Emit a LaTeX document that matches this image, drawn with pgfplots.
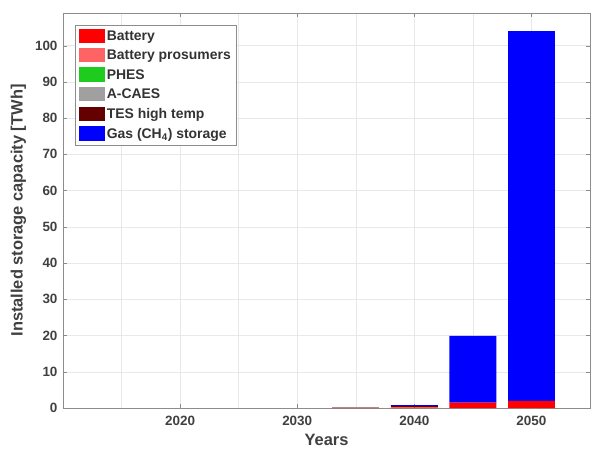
\documentclass[border=0pt]{standalone}
\usepackage{pgfplots}
\pgfplotsset{compat=1.18}
\usepackage{fontspec}
\setmainfont{Liberation Sans}
\definecolor{cbat}{RGB}{255,0,0}
\definecolor{cpros}{RGB}{255,100,100}
\definecolor{cphes}{RGB}{30,204,30}
\definecolor{ccaes}{RGB}{160,160,160}
\definecolor{ctes}{RGB}{100,0,0}
\definecolor{cgas}{RGB}{0,0,255}
\definecolor{gridc}{RGB}{232,232,232}
\definecolor{axc}{RGB}{140,140,140}
\begin{document}
\begin{tikzpicture}
\begin{axis}[
  scale only axis,
  width=527bp, height=395bp,
  ybar stacked,
  bar width=4,
  xmin=2010, xmax=2055,
  ymin=0, ymax=109,
  xtick={2020,2030,2040,2050},
  minor xtick={2015,2025,2035,2045},
  ytick={0,10,...,100},
  xticklabel style={/pgf/number format/1000 sep={}, yshift=-5bp},
  yticklabel style={xshift=-2bp},
  /pgf/number format/assume math mode=true,
  tick label style={font=\bfseries\fontsize{13.5}{15}\selectfont, text=black!75},
  xlabel={Years},
  ylabel={Installed storage capacity [TWh]},
  label style={font=\bfseries\fontsize{16.5}{18}\selectfont, text=black!75},
  xlabel style={yshift=-1bp},
  ylabel style={yshift=2bp},
  grid=both,
  major grid style={gridc, line width=0.5pt},
  minor grid style={gridc, line width=0.5pt},
  axis line style={axc},
  tick style={axc},
  tick align=inside,
  major tick length=4bp,
  minor tick length=0pt,
  legend style={at={(axis description cs:0.023,0.97)}, anchor=north west,
    draw=axc, fill=white, font=\bfseries\fontsize{14}{15}\selectfont,
    text=black!80, row sep=4.3bp, inner sep=3.5pt, cells={anchor=west}},
  legend image code/.code={\fill[#1] (0bp,-7bp) rectangle (26bp,7.5bp);},
  legend cell align=left,
]
\addplot[fill=cbat, draw=none] coordinates {(2015,0) (2020,0) (2025,0) (2030,0) (2035,0.05) (2040,0.15) (2045,1.5) (2050,2.0)};
\addplot[fill=cpros, draw=none] coordinates {(2015,0) (2020,0) (2025,0) (2030,0) (2035,0) (2040,0) (2045,0) (2050,0)};
\addplot[fill=cphes, draw=none] coordinates {(2015,0) (2020,0) (2025,0) (2030,0) (2035,0) (2040,0) (2045,0) (2050,0)};
\addplot[fill=ccaes, draw=none] coordinates {(2015,0) (2020,0) (2025,0) (2030,0) (2035,0.1) (2040,0) (2045,0) (2050,0)};
\addplot[fill=ctes, draw=none] coordinates {(2015,0) (2020,0) (2025,0) (2030,0) (2035,0) (2040,0.3) (2045,0) (2050,0)};
\addplot[fill=cgas, draw=none] coordinates {(2015,0) (2020,0) (2025,0) (2030,0) (2035,0) (2040,0.35) (2045,18.4) (2050,102.0)};
\legend{Battery, Battery prosumers, PHES, A-CAES, TES high temp, Gas (CH\textsubscript{4}) storage}
\end{axis}
\pgfresetboundingbox
\path ([shift={(-63bp,-46bp)}]current axis.south west) rectangle ([shift={(4bp,13bp)}]current axis.north east);
\end{tikzpicture}
\end{document}
